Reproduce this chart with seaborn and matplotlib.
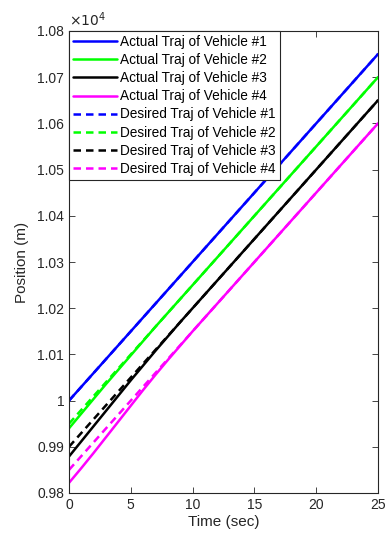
import matplotlib
matplotlib.use("Agg")
import matplotlib.pyplot as plt
import seaborn as sns
import numpy as np
import pandas as pd

# ---- data ----
t_act = [0, 1, 2, 3, 4, 5, 6, 7, 8, 9, 10, 25]
act_v1 = [10000, 10030, 10060, 10090, 10120, 10150, 10180, 10210, 10240, 10270, 10300, 10750]
act_v2 = [9940, 9972, 10004, 10036, 10067, 10098, 10129, 10160, 10190, 10220, 10250, 10700]
act_v3 = [9879, 9912, 9945, 9978, 10011, 10044, 10076, 10108, 10139, 10170, 10200, 10650]
act_v4 = [9822, 9854, 9887, 9921, 9955, 9989, 10023, 10056, 10088, 10119, 10150, 10600]

t_des = [0, 25]
des_v1 = [10000, 10750]
des_v2 = [9950, 10700]
des_v3 = [9900, 10650]
des_v4 = [9850, 10600]

ytick_vals = [9800, 9900, 10000, 10100, 10200, 10300, 10400, 10500, 10600, 10700, 10800]
ytick_labels = ['0.98', '0.99', '1', '1.01', '1.02', '1.03', '1.04', '1.05', '1.06', '1.07', '1.08']
xtick_vals = [0, 5, 10, 15, 20, 25]

sns.set_style("ticks")
plt.rcParams['font.family'] = ['Liberation Sans', 'DejaVu Sans']

colors = ['#0000ff', '#00ff00', '#000000', '#ff00ff']
fig = plt.figure(figsize=(3.86, 5.45), dpi=100)
ax = fig.add_axes([69/386, 52/545, (378-69)/386, (493-31)/545])

actuals = [act_v1, act_v2, act_v3, act_v4]
desireds = [des_v1, des_v2, des_v3, des_v4]
for i, y in enumerate(actuals):
    sns.lineplot(x=t_act, y=y, ax=ax, color=colors[i], linewidth=1.8,
                 label=f'Actual Traj of Vehicle #{i+1}', estimator=None, sort=False)
for i, y in enumerate(desireds):
    sns.lineplot(x=t_des, y=y, ax=ax, color=colors[i], linewidth=1.8, linestyle=(0, (3.0, 2.0)),
                 label=f'Desired Traj of Vehicle #{i+1}', estimator=None, sort=False)

ax.set_xlim(0, 25)
ax.set_ylim(9800, 10800)
ax.set_xticks(xtick_vals)
ax.set_xticklabels([str(v) for v in xtick_vals])
ax.set_yticks(ytick_vals)
ax.set_yticklabels(ytick_labels)

gray = '#262626'
for s in ax.spines.values():
    s.set_visible(True)
    s.set_color(gray)
    s.set_linewidth(0.8)
ax.tick_params(direction='in', top=True, right=True, length=4.5, width=0.6,
               colors=gray, labelsize=10, labelcolor=gray)
ax.set_xlabel('Time (sec)', fontsize=11, color=gray, labelpad=2)
ax.set_ylabel('Position (m)', fontsize=11, color=gray, labelpad=6)
ax.text(0.0, 1.005, r'$\times10^{4}$', transform=ax.transAxes, fontsize=10,
        color=gray, ha='left', va='bottom')

leg = ax.legend(loc='upper left', fontsize=9.8, frameon=True, fancybox=False,
                handlelength=3.2, handletextpad=0.25, borderpad=0.3, labelspacing=0.3,
                borderaxespad=0.0, edgecolor=gray)
leg.get_frame().set_linewidth(0.8)
leg.get_frame().set_alpha(1)
for txt in leg.get_texts():
    txt.set_color('#000000')

fig.savefig('out.png', dpi=100)
